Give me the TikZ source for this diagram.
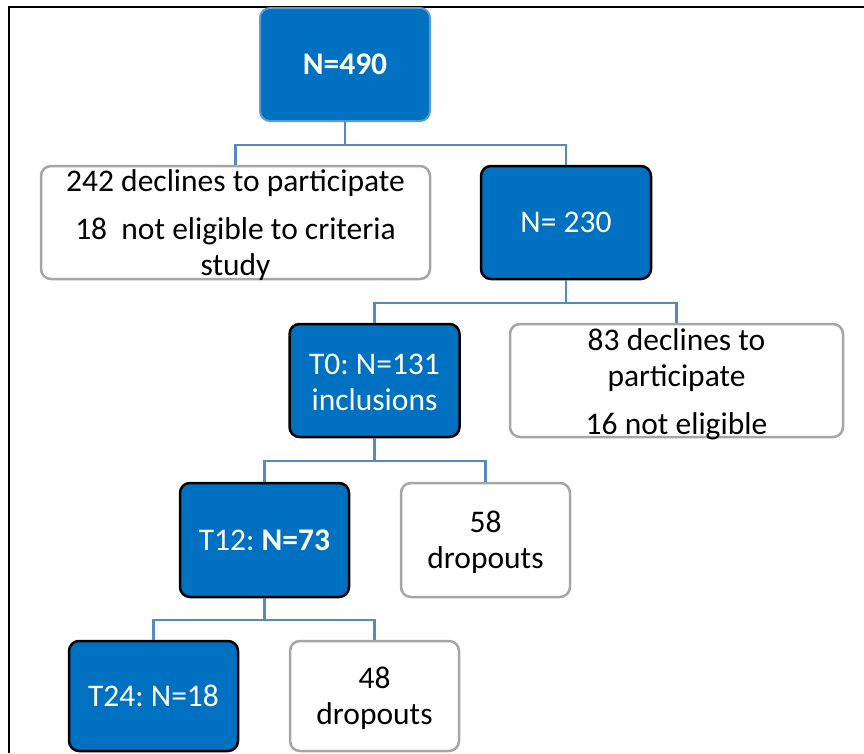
\documentclass[tikz,border=0pt]{standalone}
\usepackage{fontspec}
\setmainfont{Carlito}
\frenchspacing
\definecolor{boxblue}{RGB}{0,112,192}
\definecolor{lightedge}{RGB}{91,155,213}
\definecolor{conncol}{RGB}{84,138,196}
\definecolor{grayedge}{RGB}{166,166,166}
\tikzset{
  base/.style={rounded corners=10pt, line width=2.5pt, inner sep=0pt, align=center,
    font=\fontsize{31.5}{36}\selectfont},
  bluebox/.style={base, draw=black, fill=boxblue, text=white},
  topbox/.style={base, draw=lightedge, line width=2pt, fill=boxblue, text=white},
  whitebox/.style={base, draw=grayedge, fill=white, text=black},
  lbl/.style={inner sep=0pt, align=center, font=\fontsize{31.5}{36}\selectfont},
  conn/.style={draw=conncol, line width=2.2pt},
  frame/.style={draw=black, line width=2pt}
}
\begin{document}
\begin{tikzpicture}[x=1pt,y=-1pt]
\useasboundingbox (0,0) rectangle (864,753);
\draw[frame] (9,753) -- (9,7) -- (864,7);

\node[topbox, minimum width=170pt, minimum height=113pt] (n490) at (345,64.5) {\bfseries N=490};
\node[whitebox, minimum width=389pt, minimum height=113pt,
  label={[lbl, yshift=-3pt]center:{242 declines to participate\\[12pt]18\ \ not eligible to criteria\\study}}]
  (decl) at (235.5,222.5) {};
\node[bluebox, minimum width=170pt, minimum height=113pt] (n230) at (566,222.5) {N= 230};
\node[bluebox, minimum width=170pt, minimum height=113pt,
  label={[lbl, text=white, yshift=-1.5pt]center:{T0: N=131\\inclusions}}]
  (t0) at (374.5,380.5) {};
\node[whitebox, minimum width=333pt, minimum height=113pt,
  label={[lbl, yshift=-3.5pt]center:{83 declines to\\participate\\[12pt]16 not eligible}}]
  (d83) at (676.5,380.5) {};
\node[bluebox, minimum width=169pt, minimum height=114pt] (t12) at (264.5,540) {T12: \textbf{N=73}};
\node[whitebox, minimum width=169pt, minimum height=114pt,
  label={[lbl, yshift=-2pt]center:{58\\dropouts}}]
  (d58) at (485.5,540) {};
\node[bluebox, minimum width=169pt, minimum height=110pt] (t24) at (153.5,696) {T24: N=18};
\node[whitebox, minimum width=169pt, minimum height=110pt,
  label={[lbl, yshift=-2pt]center:{48\\dropouts}}]
  (d48) at (374.5,696) {};

\coordinate (j1) at ([yshift=-23pt]n490.south);
\draw[conn] (n490.south) -- (j1);
\draw[conn] (decl.north) |- (j1) -| (n230.north);

\coordinate (j2) at ([yshift=-23pt]n230.south);
\draw[conn] (n230.south) -- (j2);
\draw[conn] (t0.north) |- (j2) -| (d83.north);

\coordinate (j3) at ([yshift=-23pt]t0.south);
\draw[conn] (t0.south) -- (j3);
\draw[conn] (t12.north) |- (j3) -| (d58.north);

\coordinate (j4) at ([yshift=-22pt]t12.south);
\draw[conn] (t12.south) -- (j4);
\draw[conn] (t24.north) |- (j4) -| (d48.north);
\end{tikzpicture}
\end{document}
